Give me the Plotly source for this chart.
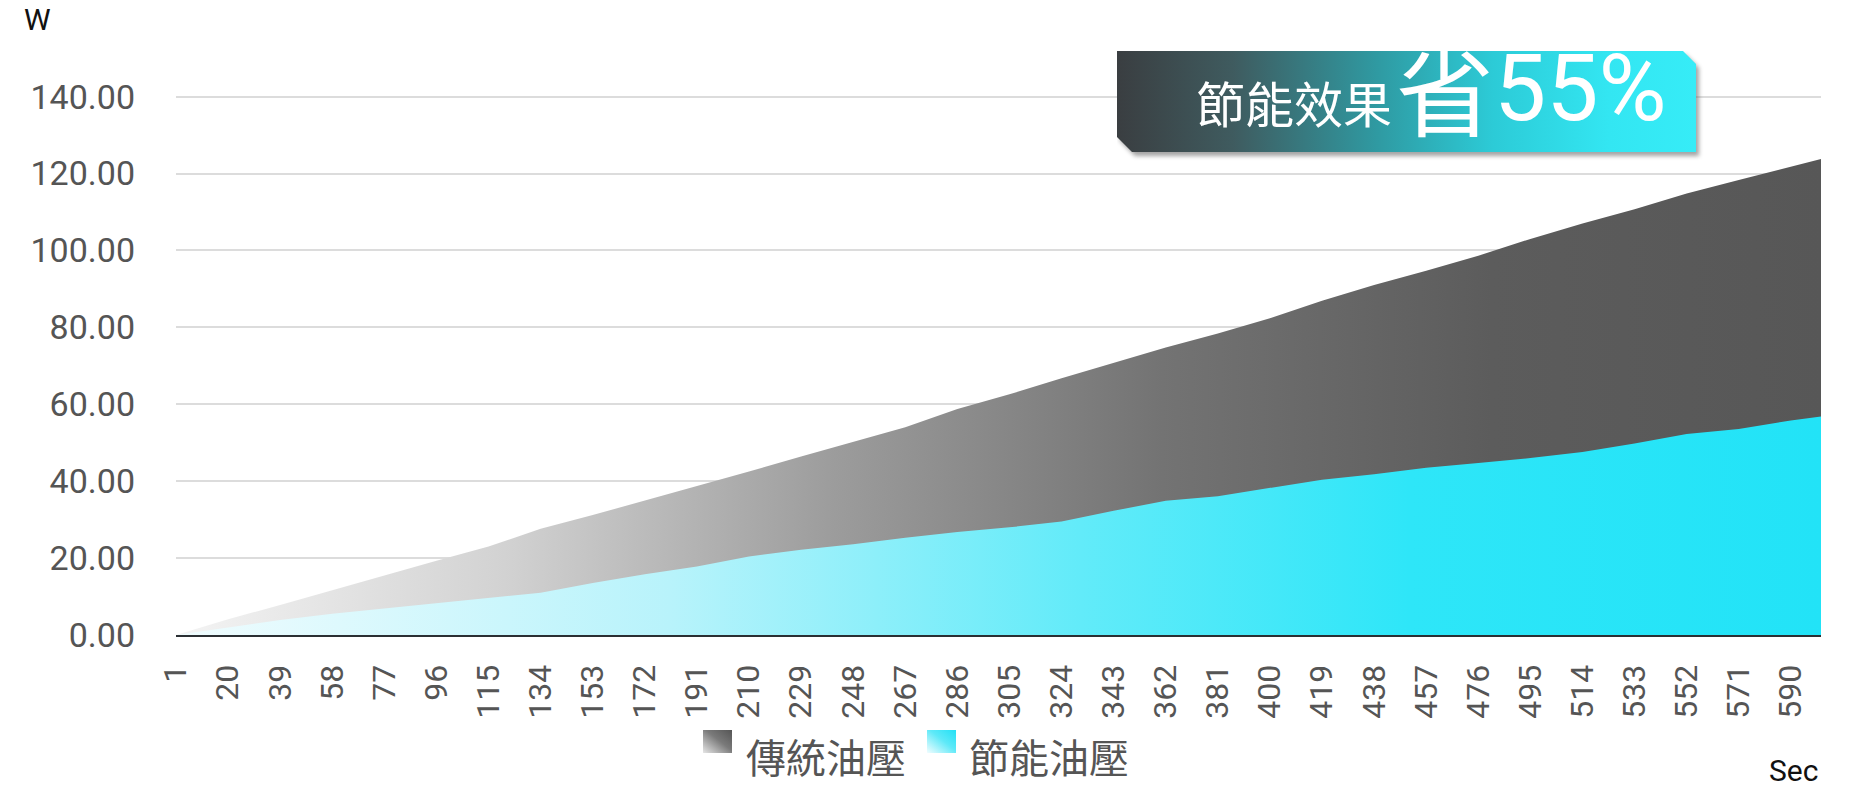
import base64
import plotly.graph_objects as go

# ---------------- data ----------------
seconds = [1, 20, 39, 58, 77, 96, 115, 134, 153, 172, 191, 210, 229, 248, 267, 286,
           305, 324, 343, 362, 381, 400, 419, 438, 457, 476, 495, 514, 533, 552,
           571, 590, 601]
traditional = [0.0, 4.1, 7.8, 11.7, 15.6, 19.3, 23.0, 27.6, 31.2, 35.0, 38.6, 42.5,
               46.4, 50.3, 54.0, 58.8, 62.6, 66.8, 70.8, 74.8, 78.4, 82.4, 86.9,
               91.0, 94.7, 98.6, 103.0, 107.0, 110.7, 114.8, 118.3, 121.7, 123.8]
energy_saving = [0.0, 1.9, 3.9, 5.5, 6.9, 8.2, 9.6, 11.0, 13.5, 15.8, 17.8, 20.4,
                 22.2, 23.6, 25.3, 26.8, 28.0, 29.5, 32.3, 34.9, 36.1, 38.3, 40.4,
                 41.8, 43.5, 44.7, 46.0, 47.6, 49.8, 52.3, 53.6, 55.8, 56.8]
x_tick_labels = ["1", "20", "39", "58", "77", "96", "115", "134", "153", "172",
                 "191", "210", "229", "248", "267", "286", "305", "324", "343",
                 "362", "381", "400", "419", "438", "457", "476", "495", "514",
                 "533", "552", "571", "590"]
y_ticks = [0, 20, 40, 60, 80, 100, 120, 140]
series_names = ["傳統油壓", "節能油壓"]
banner_parts = ["節能效果", "省", "55%"]

# ---------------- geometry ----------------
W, H = 1856, 790
PL, PR, PT, PB = 176, 1821, 39, 635


def px(xp):
    return (xp - PL) / (PR - PL)


def py(yp):
    return (PB - yp) / (PB - PT)


def svg_uri(svg):
    return "data:image/svg+xml;base64," + base64.b64encode(svg.encode("utf-8")).decode()


CJK = "Noto Sans CJK TC, Noto Sans CJK SC, sans-serif"
NUM = "Roboto, Noto Sans, sans-serif"

fig = go.Figure()
fig.add_trace(go.Scatter(
    x=seconds, y=traditional, name=series_names[0], mode="lines",
    line=dict(width=0, color="#5a5a5a"), fill="tozeroy",
    fillgradient=dict(type="horizontal",
                      colorscale=[[0, "#f4f4f4"], [0.2, "#d2d2d2"], [0.4, "#9c9c9c"],
                                  [0.6, "#737373"], [0.8, "#5c5c5c"], [1, "#575757"]]),
    hoverinfo="skip", showlegend=False))
fig.add_trace(go.Scatter(
    x=seconds, y=energy_saving, name=series_names[1], mode="lines",
    line=dict(width=0, color="#22e3f7"), fill="tozeroy",
    fillgradient=dict(type="horizontal",
                      colorscale=[[0, "#f0fcfe"], [0.3, "#b8f3fb"], [0.55, "#62ebf9"],
                                  [0.75, "#2ee6f8"], [1, "#22e3f7"]]),
    hoverinfo="skip", showlegend=False))

# ---------------- banner & legend swatches as SVG images ----------------
banner_svg = (
    '<svg xmlns="http://www.w3.org/2000/svg" width="590" height="112" viewBox="0 0 590 112">'
    '<defs><linearGradient id="g" x1="0" y1="0" x2="1" y2="0">'
    '<stop offset="0" stop-color="#3a3e41"/><stop offset="0.2" stop-color="#3f5b5f"/>'
    '<stop offset="0.45" stop-color="#2f9aa2"/><stop offset="0.65" stop-color="#2ccbd7"/>'
    '<stop offset="0.85" stop-color="#33e6f2"/><stop offset="1" stop-color="#36ecf7"/>'
    '</linearGradient>'
    '<filter id="s" x="-5%" y="-20%" width="110%" height="150%">'
    '<feGaussianBlur stdDeviation="2.2"/></filter></defs>'
    '<polygon points="0,0 566,0 579,13 579,101 15,101 0,86" fill="#5a5a5a" opacity="0.55" '
    'filter="url(#s)" transform="translate(3,4)"/>'
    '<polygon points="0,0 566,0 579,13 579,101 15,101 0,86" fill="url(#g)"/>'
    '</svg>')
gray_sq = (
    '<svg xmlns="http://www.w3.org/2000/svg" width="30" height="24" viewBox="0 0 30 24">'
    '<defs><linearGradient id="a" x1="0" y1="1" x2="1" y2="0">'
    '<stop offset="0" stop-color="#e6e6e6"/><stop offset="0.55" stop-color="#7a7a7a"/>'
    '<stop offset="1" stop-color="#555555"/></linearGradient></defs>'
    '<rect width="30" height="24" fill="url(#a)"/></svg>')
cyan_sq = (
    '<svg xmlns="http://www.w3.org/2000/svg" width="30" height="24" viewBox="0 0 30 24">'
    '<defs><linearGradient id="b" x1="0" y1="1" x2="1" y2="0">'
    '<stop offset="0" stop-color="#f2fdff"/><stop offset="0.55" stop-color="#5ee9f8"/>'
    '<stop offset="1" stop-color="#22e0f5"/></linearGradient></defs>'
    '<rect width="30" height="24" fill="url(#b)"/></svg>')

images = [
    dict(source=svg_uri(banner_svg), xref="paper", yref="paper", x=px(1117), y=py(51),
         sizex=590 / (PR - PL), sizey=112 / (PB - PT), xanchor="left", yanchor="top",
         sizing="stretch", layer="above"),
    dict(source=svg_uri(gray_sq), xref="paper", yref="paper", x=px(703), y=py(730),
         sizex=29 / (PR - PL), sizey=23 / (PB - PT), xanchor="left", yanchor="top",
         sizing="stretch", layer="above"),
    dict(source=svg_uri(cyan_sq), xref="paper", yref="paper", x=px(927), y=py(730),
         sizex=29 / (PR - PL), sizey=23 / (PB - PT), xanchor="left", yanchor="top",
         sizing="stretch", layer="above"),
]

annotations = [
    dict(text="W", x=px(22), y=py(0), xanchor="left", yanchor="top",
         font=dict(family=NUM, size=30, color="#111111")),
    dict(text="Sec", x=px(1767), y=py(770), xanchor="left", yanchor="middle",
         font=dict(family=NUM, size=30, color="#111111")),
    dict(text=series_names[0], x=px(744), y=py(756), xanchor="left", yanchor="middle",
         font=dict(family=CJK, size=40, color="#555555")),
    dict(text=series_names[1], x=px(967), y=py(756), xanchor="left", yanchor="middle",
         font=dict(family=CJK, size=40, color="#555555")),
    dict(text=banner_parts[0], x=px(1194), y=py(101), xanchor="left", yanchor="middle",
         font=dict(family=CJK, size=49, color="#ffffff")),
    dict(text=banner_parts[1], x=px(1394), y=py(86), xanchor="left", yanchor="middle",
         font=dict(family=CJK, size=98, color="#ffffff")),
    dict(text=banner_parts[2], x=px(1492), y=py(88), xanchor="left", yanchor="middle",
         font=dict(family=NUM, size=93, color="#ffffff")),
]
for a in annotations:
    a.update(xref="paper", yref="paper", showarrow=False)

fig.update_layout(
    width=W, height=H,
    margin=dict(l=PL, r=W - PR, t=PT, b=H - PB, pad=0),
    paper_bgcolor="white", plot_bgcolor="white",
    showlegend=False,
    images=images,
    annotations=annotations,
    xaxis=dict(range=[1, 601], tickmode="array", tickvals=seconds[:-1],
               ticktext=x_tick_labels, tickangle=-90, showgrid=False, zeroline=False,
               showline=True, linecolor="#2b2f33", linewidth=2, ticks="",
               ticklabelstandoff=15,
               tickfont=dict(family=NUM, size=32, color="#555555")),
    yaxis=dict(range=[0, 155], tickmode="array", tickvals=y_ticks, tickformat=".2f",
               showgrid=True, gridcolor="#dcdcdc", gridwidth=1.5, zeroline=False,
               showline=False, ticks="", ticklabelstandoff=40,
               tickfont=dict(family=NUM, size=34, color="#555555")),
)

fig.write_html("out.html")
